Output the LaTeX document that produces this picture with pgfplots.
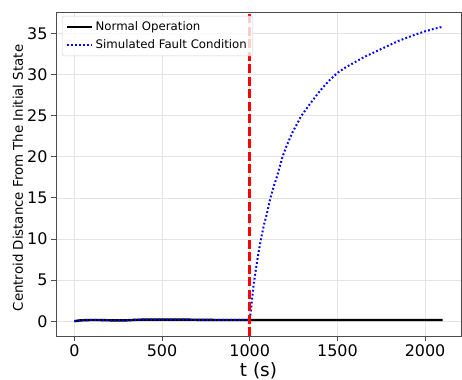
\documentclass[border=0pt]{standalone}
\usepackage{pgfplots}
\pgfplotsset{compat=1.18}
\usepackage{fontspec}
\setmainfont{DejaVu Sans}
\begin{document}
\begin{tikzpicture}
\begin{axis}[
  scale only axis,
  width=405bp, height=324bp,
  xmin=-105, xmax=2205,
  ymin=-1.8, ymax=37.6,
  xtick={0,500,1000,1500,2000},
  ytick={0,5,10,15,20,25,30,35},
  /pgf/number format/assume math mode=true,
  /pgf/number format/set thousands separator={},
  tick label style={font=\fontsize{16}{18}\selectfont},
  tick align=outside, xtick pos=bottom, ytick pos=left,
  major tick length=5bp,
  tick style={black!70, line width=0.8bp},
  axis line style={black!70, line width=0.8bp},
  grid=major,
  major grid style={gray!22, line width=0.6bp},
  xlabel={t (s)},
  ylabel={Centroid Distance From The Initial State},
  every axis x label/.style={font=\fontsize{18.5}{20}\selectfont, at={([yshift=-35bp]axis description cs:0.5,0)}, anchor=center},
  every axis y label/.style={font=\fontsize{13.4}{15}\selectfont, at={([xshift=-38bp,yshift=-4bp]axis description cs:0,0.5)}, anchor=center, rotate=90},
  legend style={at={(0.015,0.988)}, anchor=north west, draw=gray!35, rounded corners=2bp,
    fill=white, fill opacity=0.8, text opacity=1, draw opacity=1,
    font=\fontsize{11.8}{13}\selectfont, inner xsep=4bp, inner ysep=3.5bp, row sep=4bp},
  legend cell align=left,
  legend image code/.code={\draw[#1] (0bp,0bp) -- (25bp,0bp);},
]
\addplot[black, line width=2.4bp] coordinates {
(0,0.0) (25,0.08) (50,0.12) (100,0.15) (150,0.14) (200,0.11) (250,0.09) (300,0.11)
(350,0.17) (400,0.19) (500,0.2) (600,0.2) (700,0.17) (800,0.15) (900,0.15) (1000,0.15)
(1200,0.15) (1400,0.15) (1600,0.15) (1800,0.15) (2000,0.15) (2100,0.15)};
\addlegendentry{Normal Operation}
\addplot[blue, line width=2bp, dash pattern=on 1.8bp off 2.2bp] coordinates {
(0,0.0) (25,0.08) (50,0.12) (100,0.15) (150,0.14) (200,0.11) (250,0.09) (300,0.11)
(350,0.17) (400,0.19) (500,0.2) (600,0.2) (700,0.17) (800,0.15) (900,0.15) (1000,0.15)
(1005,1.0) (1010,2.0) (1015,3.0) (1020,4.0) (1026,5.0) (1035,6.3) (1045,7.7) (1055,8.9)
(1064,10.0) (1080,11.6) (1100,13.3) (1118,15.0) (1140,16.6) (1160,17.9) (1187,20.0)
(1210,21.3) (1240,22.8) (1270,24.0) (1295,25.0) (1350,26.6) (1400,28.0) (1450,29.2)
(1500,30.2) (1550,30.9) (1600,31.5) (1650,32.1) (1700,32.6) (1750,33.1) (1800,33.6)
(1850,34.1) (1900,34.5) (1950,34.9) (2000,35.25) (2050,35.55) (2100,35.8)};
\addlegendentry{Simulated Fault Condition}
\addplot[red, line width=2.5bp, dash pattern=on 9bp off 3.5bp, forget plot] coordinates {(1000,-1.8) (1000,37.6)};
\end{axis}
\pgfresetboundingbox
\path[use as bounding box] ([shift={(-56bp,-44bp)}]current axis.south west) rectangle ([shift={(1bp,12bp)}]current axis.north east);
\end{tikzpicture}
\end{document}
